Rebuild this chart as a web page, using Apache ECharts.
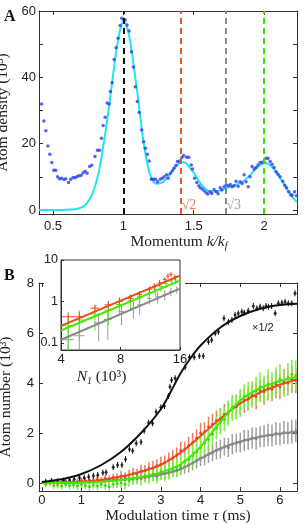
<!DOCTYPE html>
<html><head><meta charset="utf-8">
<script src="https://cdn.jsdelivr.net/npm/echarts@6/dist/echarts.min.js"></script>
<style>html,body{margin:0;padding:0;background:#fff}#c{width:306px;height:524px}</style>
</head><body><div id="c"></div>
<script>
// ---------- Panel A data ----------
const momentumK = [0.418,0.435,0.449,0.463,0.477,0.491,0.505,0.519,0.532,0.546,0.56,0.577,0.59,0.61,0.626,0.643,0.657,0.671,0.685,0.70,0.714,0.728,0.742,0.76,0.775,0.798,0.816,0.83,0.844,0.856,0.87,0.884,0.899,0.908,0.92,0.934,0.948,0.962,0.977,0.988,1.002,1.012,1.026,1.04,1.057,1.071,1.085,1.099,1.113,1.13,1.144,1.156,1.17,1.184,1.199,1.213,1.228,1.243,1.262,1.276,1.29,1.307,1.318,1.333,1.347,1.359,1.373,1.384,1.40,1.416,1.428,1.449,1.465,1.482,1.491,1.506,1.522,1.536,1.546,1.56,1.574,1.588,1.60,1.617,1.628,1.645,1.66,1.673,1.688,1.70,1.716,1.73,1.747,1.759,1.773,1.787,1.801,1.816,1.83,1.844,1.858,1.872,1.887,1.90,1.915,1.929,1.943,1.957,1.972,1.986,2.0,2.014,2.028,2.043,2.057,2.071,2.085,2.099,2.113,2.133,2.147,2.16,2.175,2.19,2.2,2.217,2.23];
const densityV = [32.0,26.8,23.9,19.3,16.8,14.3,12.0,12.0,10.0,9.4,9.6,9.2,9.4,8.3,9.3,9.8,9.7,10.1,10.3,10.5,11.2,11.7,11.1,13.1,13.5,16.1,18.0,18.0,21.6,25.5,28.0,32.3,32.0,35.7,38.4,45.4,48.9,51.8,55.6,57.8,57.5,57.3,55.8,54.0,47.7,43.1,37.2,32.7,29.4,24.1,20.6,18.6,16.8,14.8,9.3,9.3,9.3,8.5,9.3,9.6,10.0,10.6,9.6,11.0,11.8,12.6,13.4,14.6,14.8,15.8,16.4,15.9,15.9,13.6,12.4,9.6,8.3,7.3,6.7,6.3,5.8,5.2,4.8,5.5,5.0,6.2,5.6,4.9,6.7,6.0,7.0,7.5,7.3,7.7,7.0,7.3,8.7,7.2,8.5,8.0,10.6,8.5,7.0,10.0,13.1,12.4,12.8,13.6,14.3,14.4,14.4,15.6,15.6,14.6,13.8,12.8,11.5,10.8,10.0,8.7,7.5,6.7,5.5,4.5,4.5,5.5,4.3];
const fitK = [0.40,0.5,0.6,0.65,0.7,0.74,0.78,0.82,0.86,0.9,0.94,0.97,1.0,1.03,1.06,1.10,1.14,1.17,1.2,1.24,1.28,1.32,1.36,1.40,1.43,1.46,1.5,1.54,1.58,1.62,1.66,1.70,1.75,1.80,1.85,1.9,1.95,2.0,2.04,2.08,2.12,2.16,2.2,2.234];
const fitV = [0,0,0.05,0.2,0.7,2.0,5.0,10.5,20,32,45,53,57,54.5,47.5,35,21.5,14,9.5,7.9,8.4,10.2,12.5,14.2,14.5,13.4,11.2,8.5,6.5,5.6,5.6,6.1,6.9,7.7,8.6,10.5,12.8,14.1,13.6,11.8,9.2,6.5,4.0,2.3];
const refLines = [1, Math.SQRT2, Math.sqrt(3), 2];
const refColors = ['#111111', '#e0582c', '#8a8a8a', '#3de000'];
const kTicks = [0.5, 1, 1.5, 2];
const densityTicks = [0, 10, 20, 30, 40, 50, 60];
const densityLabels = [0, 20, 40, 60];

// ---------- Panel B data ----------
const blackTau = [0.1,0.25,0.4,0.55,0.7,0.82,0.95,1.07,1.18,1.30,1.41,1.54,1.62,1.80,1.91,2.02,2.11,2.21,2.29,2.38,2.50,2.58,2.69,2.79,2.88,3.0,3.09,3.19,3.23,3.27,3.36,3.61,3.72,3.84,3.97,4.07,4.20,4.28,4.37,4.45,4.59,4.70,4.79,4.87,4.95,5.04,5.10,5.20,5.33,5.42,5.50,5.58,5.65,5.71,5.79,5.88,5.96,6.05,6.13,6.21,6.30,6.38];
const blackVal = [0.05,0.08,0.06,0.1,0.12,0.16,0.21,0.21,0.25,0.29,0.32,0.41,0.43,0.63,0.72,0.72,0.95,1.35,1.29,1.59,1.64,2.09,2.41,2.39,2.85,3.03,3.08,3.48,3.85,4.12,4.19,4.63,5.03,5.03,5.08,5.08,5.65,5.72,5.99,6.05,6.59,6.45,6.52,6.72,6.79,6.85,6.81,6.89,7.08,6.99,7.05,6.99,7.08,7.05,7.08,6.79,7.19,7.21,7.25,7.19,7.19,7.59];
const blackErr = 0.12;
const blackFitTau = [0,0.5,1,1.5,2,2.5,3,3.25,3.5,3.75,4,4.5,5,5.5,6,6.43];
const blackFitVal = [0.04,0.15,0.36,0.72,1.25,2.0,2.95,3.65,4.4,5.0,5.5,6.22,6.68,6.97,7.12,7.17];

const tauB = [0.1,0.2,0.3,0.4,0.5,0.6,0.7,0.8,0.9,1.0,1.1,1.2,1.3,1.4,1.5,1.6,1.7,1.8,1.9,2.0,2.1,2.2,2.3,2.4,2.5,2.6,2.7,2.8,2.9,3.0,3.1,3.2,3.3,3.4,3.5,3.6,3.7,3.8,3.9,4.0,4.1,4.2,4.3,4.4,4.5,4.6,4.7,4.8,4.9,5.0,5.1,5.2,5.3,5.4,5.5,5.6,5.7,5.8,5.9,6.0,6.1,6.2,6.3,6.4];
const redVal = [0.02,0.0,0.05,0.03,0.01,0.06,0.04,0.08,0.03,0.1,0.06,0.12,0.08,0.15,0.1,0.18,0.14,0.22,0.2,0.28,0.25,0.33,0.38,0.36,0.48,0.5,0.58,0.6,0.7,0.75,0.82,0.92,1.0,1.12,1.3,1.35,1.5,1.62,1.8,2.0,2.05,2.25,2.35,2.5,2.55,2.75,2.8,3.0,3.05,3.2,3.3,3.35,3.5,3.45,3.7,3.65,3.8,3.75,3.95,3.85,4.05,4.0,4.15,4.1];
const redErr = [0.08,0.1,0.08,0.1,0.09,0.1,0.12,0.1,0.12,0.1,0.12,0.14,0.12,0.15,0.13,0.15,0.16,0.15,0.18,0.2,0.18,0.2,0.22,0.2,0.25,0.22,0.25,0.28,0.25,0.3,0.28,0.3,0.32,0.3,0.35,0.3,0.35,0.38,0.35,0.4,0.38,0.4,0.42,0.4,0.45,0.4,0.45,0.42,0.48,0.45,0.5,0.45,0.48,0.5,0.45,0.52,0.5,0.48,0.55,0.5,0.52,0.5,0.55,0.5];
const greenVal = [-0.05,0.02,-0.1,-0.08,-0.12,-0.05,-0.1,-0.08,-0.12,-0.05,-0.1,-0.15,-0.08,-0.12,-0.05,-0.1,-0.15,-0.05,-0.02,0.0,-0.05,0.1,0.15,0.2,0.18,0.28,0.25,0.35,0.3,0.45,0.4,0.5,0.55,0.62,0.7,0.85,0.95,1.1,1.25,1.4,1.6,1.75,1.95,2.2,2.45,2.55,2.8,3.0,3.05,3.2,3.45,3.5,3.55,3.7,3.85,3.75,3.95,3.9,4.05,4.15,4.0,4.2,4.35,4.3];
const greenErr = [0.12,0.15,0.13,0.15,0.14,0.15,0.16,0.15,0.17,0.15,0.16,0.18,0.15,0.17,0.16,0.18,0.17,0.16,0.18,0.2,0.22,0.25,0.23,0.25,0.28,0.26,0.3,0.28,0.32,0.3,0.33,0.35,0.32,0.36,0.38,0.35,0.4,0.42,0.4,0.45,0.43,0.45,0.48,0.45,0.5,0.48,0.5,0.52,0.5,0.55,0.5,0.55,0.52,0.55,0.58,0.55,0.6,0.55,0.58,0.6,0.55,0.6,0.58,0.6];
const grayVal = [0.0,0.05,0.02,0.06,0.03,0.05,0.08,0.04,0.07,0.05,0.08,0.06,0.1,0.07,0.09,0.12,0.1,0.14,0.12,0.15,0.14,0.18,0.2,0.17,0.25,0.22,0.28,0.3,0.27,0.35,0.38,0.4,0.48,0.5,0.6,0.65,0.72,0.8,0.9,1.0,1.05,1.15,1.2,1.3,1.35,1.45,1.42,1.55,1.6,1.62,1.7,1.72,1.8,1.78,1.85,1.88,1.92,1.9,1.98,1.95,2.02,2.0,2.05,2.08];
const grayErr = [0.08,0.1,0.09,0.1,0.1,0.1,0.11,0.1,0.12,0.1,0.12,0.12,0.13,0.12,0.14,0.13,0.15,0.14,0.15,0.16,0.16,0.18,0.17,0.18,0.2,0.19,0.2,0.22,0.2,0.22,0.24,0.25,0.24,0.26,0.28,0.27,0.3,0.3,0.32,0.32,0.34,0.35,0.34,0.36,0.38,0.36,0.38,0.4,0.38,0.4,0.42,0.4,0.42,0.44,0.42,0.44,0.45,0.44,0.46,0.45,0.46,0.45,0.48,0.46];
const fitTau = [0,0.5,1,1.5,2,2.5,3,3.5,4,4.5,5,5.5,6,6.43];
const redFit = [0,0.02,0.05,0.12,0.26,0.45,0.73,1.22,1.88,2.58,3.18,3.62,3.93,4.15];
const greenFit = [0,0.01,0.02,0.05,0.12,0.24,0.42,0.75,1.45,2.45,3.3,3.8,4.08,4.25];
const grayFit = [0,0.01,0.03,0.07,0.13,0.22,0.34,0.55,0.98,1.38,1.66,1.85,1.98,2.04];
const tauTicks = [0,1,2,3,4,5,6];
const numberTicks = [0,2,4,6,8];

// ---------- Inset data ----------
const insetRedN = [4.35,4.95,5.94,6.94,7.9,9.0,10.0,11.2,11.9,12.6,13.4,13.9,14.4,15.1];
const insetRedV = [0.43,0.43,0.69,0.83,1.0,1.2,1.46,1.93,2.33,2.8,3.4,4.1,4.5,3.9];
const insetRedErr = [0.12,0.12,0.15,0.2,0.25,0.25,0.3,0.4,0.4,0.5,0.5,0.6,0.6,0.6];
const insetGreenN = [4.35,4.95,5.94,6.94,7.9,9.0,10.0,11.2,12.0,12.8,13.6,14.5,15.2];
const insetGreenV = [0.26,0.36,0.5,0.62,0.85,1.05,1.3,1.6,1.9,2.3,2.7,3.1,3.3];
const insetGreenErr = [0.22,0.25,0.3,0.35,0.4,0.45,0.5,0.5,0.55,0.6,0.6,0.6,0.6];
const insetGrayN = [4.35,4.95,6.2,6.9,8.1,9.3,10.0,11.2,12.3,13.4,14.4,15.4];
const insetGrayV = [0.12,0.15,0.31,0.37,0.57,0.69,0.83,1.2,1.3,1.46,1.75,1.93];
const insetGrayErr = [0.1,0.1,0.2,0.25,0.3,0.3,0.35,0.35,0.4,0.4,0.4,0.4];
const insetNErr = 0.3;
const insetLineN = [4, 16];
const insetRedLine = [0.26, 4.2];
const insetGreenLine = [0.2, 3.2];
const insetGrayLine = [0.12, 2.05];

// ---------- styles ----------
const SERIF = '"Liberation Serif","Times New Roman",serif';
const SANS = '"Liberation Sans",Arial,sans-serif';
const AX = '#333';
const C = {black:'#111', red:'#e84a1c', redBar:'#f07a5a', green:'#45e800', greenBar:'#7cf040', gray:'#888', grayBar:'#a0a0a0', blue:'#2c3ef0', cyan:'#1fe6f2'};

const nameStyle = (extra) => Object.assign({fontFamily:SERIF, fontSize:15.5, color:'#222',
  rich:{i:{fontFamily:SERIF, fontStyle:'italic', fontSize:15.5, color:'#222'},
        s:{fontFamily:SERIF, fontStyle:'italic', fontSize:10, color:'#222', padding:[9,0,0,0]}}}, extra||{});

function valAxis(o) {
  const a = {
    gridIndex:o.grid, type:'value', min:o.min, max:o.max, position:o.pos,
    axisLine:{show:true, onZero:false, lineStyle:{color:AX, width:1}},
    axisTick:{show:true, inside:true, length:4, lineStyle:{color:AX}, customValues:o.ticks},
    axisLabel:{show:!!o.labels, customValues:o.labels || o.ticks, fontFamily:SANS, fontSize:13, color:'#222', margin:o.margin||4},
    splitLine:{show:false}
  };
  if (o.name) { a.name = o.name; a.nameLocation = 'middle'; a.nameGap = o.nameGap; a.nameTextStyle = o.nameTextStyle; }
  if (o.z) a.z = o.z;
  return a;
}

function errSeries(data, color, xi, yi, width) {
  return {type:'custom', xAxisIndex:xi, yAxisIndex:yi, z:2, silent:true, clip:true,
    encode:{x:0, y:[1,2]}, data:data,
    renderItem:function(params, api){
      const p1 = api.coord([api.value(0), api.value(1)]);
      const p2 = api.coord([api.value(0), api.value(2)]);
      return {type:'line', shape:{x1:p1[0], y1:p1[1], x2:p2[0], y2:p2[1]}, style:{stroke:color, lineWidth:width}};
    }};
}
function crossSeries(ns, vs, es, color) {
  const data = ns.map((n,i)=>[n, vs[i], n - insetNErr, n + insetNErr, Math.max(vs[i]-es[i], 0.01), vs[i]+es[i]]);
  return {type:'custom', xAxisIndex:4, yAxisIndex:4, z:3, silent:true, clip:true,
    encode:{x:[0,2,3], y:[1,4,5]}, data:data,
    renderItem:function(params, api){
      const c = api.coord([api.value(0), api.value(1)]);
      const l = api.coord([api.value(2), api.value(1)]);
      const r = api.coord([api.value(3), api.value(1)]);
      const b = api.coord([api.value(0), api.value(4)]);
      const t = api.coord([api.value(0), api.value(5)]);
      return {type:'group', children:[
        {type:'line', shape:{x1:l[0], y1:c[1], x2:r[0], y2:c[1]}, style:{stroke:color, lineWidth:1}},
        {type:'line', shape:{x1:c[0], y1:b[1], x2:c[0], y2:t[1]}, style:{stroke:color, lineWidth:1}}
      ]};
    }};
}
function lineSeries(xs, ys, color, xi, yi, w, smooth, z) {
  return {type:'line', xAxisIndex:xi, yAxisIndex:yi, data:xs.map((x,i)=>[x, ys[i]]), showSymbol:false, symbol:'none',
    smooth:smooth, lineStyle:{color:color, width:w}, z:z||4, silent:true};
}
function dotSeries(xs, ys, color, xi, yi, size, z) {
  return {type:'scatter', xAxisIndex:xi, yAxisIndex:yi, data:xs.map((x,i)=>[x, ys[i]]), symbol:'circle', symbolSize:size,
    itemStyle:{color:color}, z:z||3, silent:true};
}

const chart = echarts.init(document.getElementById('c'), null, {renderer:'canvas'});

const option = {
  animation:false,
  backgroundColor:'#fff',
  grid:[
    {left:39, top:11, width:258, height:203, show:false, outerBoundsMode:'none', containLabel:false},
    {left:39, top:283, width:258, height:208, show:false, outerBoundsMode:'none', containLabel:false},
    {left:61, top:260, width:119, height:90, show:true, z:3, borderColor:AX, borderWidth:1, backgroundColor:'transparent', outerBoundsMode:'none', containLabel:false}
  ],
  xAxis:[
    valAxis({grid:0, min:0.4, max:2.234, pos:'bottom', ticks:kTicks, labels:kTicks, margin:6,
      name:'Momentum {i|k/k}{s|f}', nameGap:17, nameTextStyle:nameStyle({padding:[0,0,0,22]})}),
    valAxis({grid:0, min:0.4, max:2.234, pos:'top', ticks:kTicks}),
    valAxis({grid:1, min:-0.07, max:6.43, pos:'bottom', ticks:tauTicks, labels:tauTicks, margin:3,
      name:'Modulation time {i|τ} (ms)', nameGap:17, nameTextStyle:nameStyle({padding:[0,0,0,20]})}),
    valAxis({grid:1, min:-0.07, max:6.43, pos:'top', ticks:tauTicks}),
    {gridIndex:2, type:'log', logBase:2, min:4, max:16, position:'bottom', z:3,
      axisLine:{show:true, onZero:false, lineStyle:{color:AX}},
      axisTick:{show:true, inside:true, length:3, lineStyle:{color:AX}},
      axisLabel:{fontFamily:SANS, fontSize:13, color:'#222', margin:3},
      splitLine:{show:false},
      name:'{i|N}{s|1} (10³)', nameLocation:'middle', nameGap:17, nameTextStyle:nameStyle({padding:[0,38,0,0]})}
  ],
  yAxis:[
    valAxis({grid:0, min:-1.2, max:60, pos:'left', ticks:densityTicks, labels:densityLabels, margin:3,
      name:'Atom density (10³)', nameGap:25, nameTextStyle:nameStyle({padding:[0,0,0,0]})}),
    valAxis({grid:0, min:-1.2, max:60, pos:'right', ticks:densityTicks}),
    valAxis({grid:1, min:-0.32, max:8, pos:'left', ticks:numberTicks, labels:numberTicks, margin:5,
      name:'Atom number (10³)', nameGap:25, nameTextStyle:nameStyle({padding:[0,20,0,0]})}),
    valAxis({grid:1, min:-0.32, max:8, pos:'right', ticks:numberTicks}),
    {gridIndex:2, type:'log', logBase:10, min:0.068, max:10, position:'left', z:3,
      axisLine:{show:true, onZero:false, lineStyle:{color:AX}},
      axisTick:{show:true, inside:true, length:3, lineStyle:{color:AX}},
      axisLabel:{fontFamily:SANS, fontSize:12.5, color:'#222', margin:3, showMinLabel:false},
      splitLine:{show:false}}
  ],
  graphic:{elements:[
    {type:'rect', left:44, top:254, z:1, shape:{width:141, height:128}, style:{fill:'#fff'}},
    {type:'text', left:4, top:9, z:5, style:{text:'A', font:'bold 16px ' + SERIF, fill:'#111'}},
    {type:'text', left:4, top:268, z:5, style:{text:'B', font:'bold 16px ' + SERIF, fill:'#111'}},
    {type:'text', left:252, top:322, z:5, style:{text:'×1/2', font:'11px ' + SANS, fill:'#222'}}
  ]},
  series:[
    // Panel A
    lineSeries(fitK, fitV, C.cyan, 0, 0, 2, 0.35, 3),
    dotSeries(momentumK, densityV, C.blue, 0, 0, 3.5, 4),
    {type:'line', xAxisIndex:0, yAxisIndex:0, data:[], z:5, silent:true,
      markLine:{silent:true, symbol:'none', label:{show:false},
        data:refLines.map((v,i)=>({xAxis:v, lineStyle:{color:refColors[i], width:2, type:[6,4]}}))}},
    {type:'scatter', xAxisIndex:0, yAxisIndex:0, symbolSize:0, z:5, silent:true,
      data:[[refLines[1], 1.4, '√2', refColors[1]], [refLines[2], 1.4, '√3', refColors[2]]],
      label:{show:true, position:'right', distance:0, fontFamily:SERIF, fontSize:14,
        formatter:p=>p.data[2], color:'inherit'},
      itemStyle:{color:p=>p.data[3]}},
    // Panel B error bars
    errSeries(tauB.map((t,i)=>[t, grayVal[i]-grayErr[i], grayVal[i]+grayErr[i]]), C.grayBar, 2, 2, 1.5),
    errSeries(tauB.map((t,i)=>[t, redVal[i]-redErr[i], redVal[i]+redErr[i]]), C.redBar, 2, 2, 1.5),
    errSeries(tauB.map((t,i)=>[t, greenVal[i]-greenErr[i], greenVal[i]+greenErr[i]]), C.greenBar, 2, 2, 1.5),
    errSeries(blackTau.map((t,i)=>[t, blackVal[i]-blackErr, blackVal[i]+blackErr]), C.black, 2, 2, 1),
    dotSeries(tauB, grayVal, '#777', 2, 2, 3),
    dotSeries(tauB, redVal, '#d8401a', 2, 2, 3),
    dotSeries(tauB, greenVal, '#30d000', 2, 2, 3),
    dotSeries(blackTau, blackVal, C.black, 2, 2, 3),
    lineSeries(fitTau, grayFit, C.gray, 2, 2, 2, 0.3),
    lineSeries(fitTau, redFit, C.red, 2, 2, 2, 0.3),
    lineSeries(fitTau, greenFit, C.green, 2, 2, 2, 0.3),
    lineSeries(blackFitTau, blackFitVal, C.black, 2, 2, 2, 0.3),
    // Inset
    crossSeries(insetGrayN, insetGrayV, insetGrayErr, '#9a9a9a'),
    crossSeries(insetGreenN, insetGreenV, insetGreenErr, '#55e81a'),
    crossSeries(insetRedN, insetRedV, insetRedErr, '#e8501e'),
    lineSeries(insetLineN, insetGrayLine, C.gray, 4, 4, 2, false, 4),
    lineSeries(insetLineN, insetGreenLine, C.green, 4, 4, 2, false, 4),
    lineSeries(insetLineN, insetRedLine, C.red, 4, 4, 2, false, 4)
  ]
};
chart.setOption(option);
</script></body></html>
